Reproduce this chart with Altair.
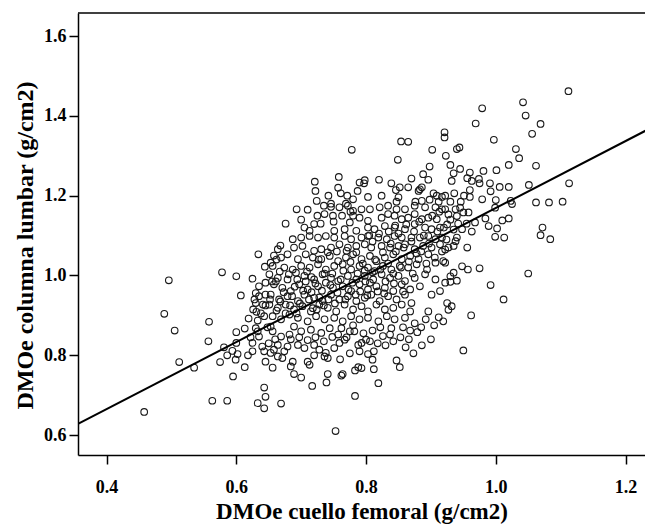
import altair as alt
import pandas as pd

# ---- data (x = DMOe cuello femoral, y = DMOe columna lumbar) ----
pts_upper_right = [
    (1.112, 1.462), (1.042, 1.434), (0.979, 1.419), (1.046, 1.401), (0.969, 1.381), (1.069, 1.380),
    (1.056, 1.355), (0.997, 1.340), (0.921, 1.359), (0.921, 1.346), (0.940, 1.317), (0.944, 1.321),
    (1.031, 1.317), (1.036, 1.294), (0.923, 1.300), (1.020, 1.277), (1.062, 1.275), (0.930, 1.277),
    (0.945, 1.267), (0.935, 1.256), (0.960, 1.258), (0.981, 1.262), (1.001, 1.264), (0.932, 1.237),
    (0.956, 1.244), (0.963, 1.237), (0.974, 1.242), (0.975, 1.231), (0.991, 1.231), (1.006, 1.222),
    (1.020, 1.222), (1.051, 1.227), (1.113, 1.231), (0.960, 1.214), (0.992, 1.211), (0.936, 1.206),
    (0.922, 1.200), (0.960, 1.197), (0.979, 1.191), (1.000, 1.189), (1.023, 1.187), (1.062, 1.183),
    (1.082, 1.183), (1.103, 1.185),
]
pts_upper_mid = [
    (0.778, 1.315), (0.854, 1.336), (0.865, 1.335), (0.849, 1.290), (0.902, 1.315), (0.898, 1.273),
    (0.888, 1.254), (0.896, 1.240), (0.870, 1.243), (0.758, 1.247), (0.721, 1.235), (0.722, 1.212),
    (0.724, 1.187), (0.790, 1.233), (0.798, 1.239), (0.797, 1.231), (0.820, 1.240), (0.839, 1.231),
    (0.852, 1.221), (0.846, 1.214), (0.865, 1.221), (0.883, 1.216), (0.886, 1.221), (0.881, 1.212),
    (0.787, 1.212), (0.780, 1.191), (0.761, 1.206), (0.803, 1.197), (0.824, 1.200), (0.850, 1.196),
    (0.847, 1.185), (0.904, 1.206), (0.909, 1.200), (0.917, 1.197), (0.886, 1.187), (0.876, 1.185),
    (0.746, 1.180), (0.769, 1.180),
]
pts_left_mid = [
    (0.634, 1.053), (0.644, 1.022), (0.578, 1.008), (0.600, 0.998), (0.625, 0.992), (0.496, 0.988),
    (0.635, 0.973), (0.645, 0.982), (0.607, 0.950), (0.630, 0.956), (0.635, 0.948), (0.645, 0.952),
    (0.630, 0.931), (0.641, 0.927), (0.489, 0.904), (0.631, 0.909), (0.643, 0.898), (0.619, 0.892),
    (0.633, 0.887), (0.558, 0.884),
]
pts_left_low = [
    (0.505, 0.862), (0.557, 0.835), (0.512, 0.783), (0.535, 0.769), (0.458, 0.658), (0.563, 0.686),
    (0.586, 0.686), (0.575, 0.783), (0.581, 0.820), (0.586, 0.800), (0.594, 0.811), (0.600, 0.858),
    (0.613, 0.867), (0.600, 0.831), (0.602, 0.803), (0.599, 0.789), (0.595, 0.747), (0.613, 0.770),
    (0.625, 0.831), (0.633, 0.860), (0.635, 0.847), (0.640, 0.822), (0.643, 0.810), (0.645, 0.784),
    (0.643, 0.719), (0.645, 0.696), (0.633, 0.680), (0.643, 0.667), (0.630, 0.868),
]
pts_mid_low = [
    (0.753, 0.610), (0.669, 0.679), (0.783, 0.698), (0.717, 0.723), (0.739, 0.732), (0.741, 0.753),
    (0.762, 0.749), (0.764, 0.753), (0.783, 0.762), (0.788, 0.770), (0.793, 0.768), (0.819, 0.730),
    (0.812, 0.765), (0.810, 0.789), (0.812, 0.810), (0.803, 0.803), (0.700, 0.744), (0.689, 0.753),
    (0.656, 0.769), (0.847, 0.787), (0.852, 0.770), (0.861, 0.820), (0.837, 0.852), (0.839, 0.868),
    (0.868, 0.862), (0.879, 0.858), (0.857, 0.870), (0.788, 0.826), (0.793, 0.831), (0.800, 0.839),
    (0.806, 0.835), (0.738, 0.806), (0.741, 0.793), (0.736, 0.797), (0.710, 0.784), (0.713, 0.776),
    (0.684, 0.772), (0.687, 0.784), (0.664, 0.797), (0.671, 0.793), (0.653, 0.806), (0.658, 0.814),
    (0.751, 0.818), (0.759, 0.831), (0.767, 0.839), (0.775, 0.860), (0.782, 0.860), (0.762, 0.868),
    (0.679, 0.822), (0.695, 0.826), (0.705, 0.818), (0.720, 0.826), (0.728, 0.814), (0.669, 0.847),
    (0.682, 0.852), (0.700, 0.860), (0.715, 0.864), (0.731, 0.856), (0.744, 0.868), (0.656, 0.860),
    (0.653, 0.872), (0.689, 0.872), (0.664, 0.826), (0.674, 0.810),
]
pts_right_mid = [
    (1.072, 1.120), (1.069, 1.101), (1.084, 1.091), (1.050, 1.005), (0.992, 0.976), (1.012, 0.940),
    (0.962, 0.900), (0.975, 1.018), (0.957, 1.015), (0.948, 1.023), (0.935, 1.007), (0.930, 0.998),
    (0.940, 0.987), (0.930, 0.984), (0.922, 0.982), (0.919, 1.036), (0.925, 0.931), (0.932, 0.923),
    (0.927, 0.914), (0.919, 0.885), (0.999, 1.097), (1.013, 1.095), (1.002, 1.118), (0.989, 1.124),
    (1.010, 1.138), (1.020, 1.143), (0.984, 1.143), (0.968, 1.133), (0.963, 1.110), (0.948, 1.116),
    (0.999, 1.170), (1.025, 1.179), (0.940, 1.095), (0.938, 1.086), (0.935, 1.074), (0.927, 1.070),
    (0.922, 1.065), (0.956, 1.070), (0.925, 1.128), (0.927, 1.153), (0.940, 1.149), (0.950, 1.158),
    (0.958, 1.158), (0.945, 1.170), (0.938, 1.166), (0.922, 1.166), (0.922, 1.032), (0.950, 0.812),
]
pts_core = [
    (0.693, 1.166), (0.746, 1.172), (0.759, 1.171), (0.772, 1.175), (0.780, 1.162), (0.793, 1.166),
    (0.806, 1.166), (0.821, 1.171), (0.834, 1.175), (0.847, 1.166), (0.860, 1.166), (0.875, 1.175),
    (0.891, 1.171), (0.907, 1.171), (0.917, 1.166),
    (0.775, 1.133), (0.780, 1.150), (0.790, 1.145), (0.803, 1.137), (0.824, 1.145), (0.834, 1.154),
    (0.844, 1.150), (0.855, 1.141), (0.865, 1.145), (0.875, 1.154), (0.886, 1.141), (0.896, 1.145),
    (0.909, 1.141), (0.749, 1.150), (0.736, 1.154),
    (0.676, 1.130), (0.720, 1.129), (0.803, 1.120), (0.813, 1.116), (0.829, 1.124), (0.844, 1.120),
    (0.860, 1.116), (0.875, 1.129), (0.891, 1.120), (0.901, 1.116), (0.914, 1.120), (0.713, 1.112),
    (0.751, 1.112), (0.767, 1.116), (0.785, 1.112),
    (0.687, 1.091), (0.700, 1.095), (0.713, 1.099), (0.726, 1.095), (0.738, 1.099), (0.751, 1.095),
    (0.767, 1.099), (0.777, 1.091), (0.793, 1.095), (0.803, 1.099), (0.819, 1.095), (0.832, 1.091),
    (0.844, 1.099), (0.855, 1.095), (0.870, 1.095), (0.883, 1.095), (0.896, 1.099), (0.907, 1.091),
    (0.917, 1.095),
    (0.664, 1.066), (0.689, 1.070), (0.702, 1.074), (0.720, 1.062), (0.731, 1.066), (0.746, 1.070),
    (0.759, 1.078), (0.772, 1.070), (0.785, 1.074), (0.798, 1.078), (0.808, 1.070), (0.824, 1.074),
    (0.837, 1.070), (0.850, 1.074), (0.860, 1.078), (0.875, 1.066), (0.888, 1.074), (0.901, 1.070),
    (0.914, 1.078),
    (0.653, 1.032), (0.669, 1.045), (0.679, 1.053), (0.695, 1.041), (0.707, 1.053), (0.718, 1.045),
    (0.731, 1.041), (0.744, 1.049), (0.757, 1.036), (0.769, 1.045), (0.780, 1.053), (0.793, 1.041),
    (0.806, 1.049), (0.816, 1.036), (0.829, 1.045), (0.842, 1.053), (0.855, 1.041), (0.868, 1.049),
    (0.881, 1.041), (0.896, 1.053), (0.907, 1.032),
    (0.656, 1.024), (0.674, 1.020), (0.687, 1.015), (0.700, 1.024), (0.713, 1.020), (0.726, 1.028),
    (0.738, 1.015), (0.751, 1.024), (0.764, 1.028), (0.777, 1.015), (0.790, 1.024), (0.803, 1.020),
    (0.813, 1.011), (0.826, 1.024), (0.839, 1.015), (0.852, 1.024), (0.865, 1.020), (0.878, 1.028),
    (0.894, 1.015),
    (0.651, 1.003), (0.664, 0.994), (0.679, 0.990), (0.692, 1.007), (0.705, 0.999), (0.720, 0.990),
    (0.733, 1.003), (0.746, 0.994), (0.757, 0.986), (0.772, 0.999), (0.785, 0.990), (0.798, 0.999),
    (0.811, 0.990), (0.824, 1.003), (0.837, 0.994), (0.850, 0.999), (0.860, 0.986), (0.875, 0.994),
    (0.891, 1.003), (0.907, 0.990),
    (0.658, 0.978), (0.671, 0.969), (0.684, 0.961), (0.697, 0.978), (0.710, 0.965), (0.726, 0.973),
    (0.738, 0.982), (0.749, 0.969), (0.764, 0.973), (0.777, 0.961), (0.790, 0.978), (0.803, 0.965),
    (0.816, 0.973), (0.829, 0.969), (0.842, 0.961), (0.855, 0.978), (0.868, 0.965), (0.883, 0.973),
    (0.901, 0.952), (0.914, 0.961),
    (0.653, 0.952), (0.666, 0.940), (0.679, 0.948), (0.695, 0.936), (0.705, 0.952), (0.720, 0.944),
    (0.733, 0.936), (0.746, 0.952), (0.759, 0.940), (0.772, 0.948), (0.785, 0.936), (0.798, 0.944),
    (0.808, 0.952), (0.821, 0.936), (0.834, 0.948), (0.847, 0.940), (0.860, 0.952), (0.870, 0.931),
    (0.651, 0.927), (0.664, 0.919), (0.676, 0.927), (0.689, 0.915), (0.702, 0.923), (0.715, 0.910),
    (0.728, 0.927), (0.741, 0.919), (0.754, 0.910), (0.767, 0.927), (0.780, 0.915), (0.793, 0.923),
    (0.803, 0.910), (0.816, 0.927), (0.829, 0.915), (0.842, 0.919), (0.855, 0.927), (0.868, 0.910),
    (0.896, 0.910),
    (0.656, 0.898), (0.669, 0.890), (0.682, 0.902), (0.695, 0.894), (0.710, 0.885), (0.723, 0.898),
    (0.736, 0.890), (0.751, 0.894), (0.764, 0.885), (0.777, 0.898), (0.790, 0.890), (0.803, 0.894),
    (0.819, 0.885), (0.832, 0.898), (0.844, 0.890), (0.860, 0.894),
]
pts_core_extra = [
    (0.662, 0.912), (0.668, 0.935), (0.673, 0.958), (0.676, 0.905), (0.683, 0.925), (0.686, 0.948),
    (0.690, 0.972), (0.693, 0.905), (0.698, 0.930), (0.703, 0.962), (0.707, 0.985), (0.712, 0.940),
    (0.716, 0.958), (0.718, 0.918), (0.661, 0.985), (0.667, 1.010), (0.681, 1.003), (0.694, 0.990),
    (0.709, 1.010), (0.716, 0.996),
    (0.724, 0.915), (0.728, 0.945), (0.732, 0.962), (0.735, 0.925), (0.742, 0.940), (0.745, 0.976),
    (0.748, 1.005), (0.752, 0.930), (0.756, 0.957), (0.761, 0.990), (0.765, 1.012), (0.768, 0.940),
    (0.773, 0.965), (0.776, 1.034), (0.779, 0.982), (0.784, 0.952), (0.787, 1.005), (0.791, 0.960),
    (0.795, 1.030), (0.799, 0.985), (0.727, 1.040), (0.741, 1.058), (0.755, 1.060), (0.770, 1.062),
    (0.785, 1.058), (0.798, 1.012), (0.736, 1.005), (0.722, 0.980),
    (0.802, 0.950), (0.806, 0.982), (0.810, 1.008), (0.814, 1.040), (0.818, 0.960), (0.822, 1.015),
    (0.826, 1.058), (0.830, 0.985), (0.834, 1.030), (0.838, 1.080), (0.842, 1.005), (0.846, 1.060),
    (0.850, 1.105), (0.854, 1.020), (0.858, 1.070), (0.862, 1.128), (0.866, 1.035), (0.870, 1.085),
    (0.874, 1.110), (0.878, 1.055), (0.882, 1.135), (0.810, 1.085), (0.820, 1.105), (0.835, 1.110),
    (0.845, 1.125), (0.805, 1.100), (0.828, 0.955), (0.843, 0.980), (0.857, 0.960), (0.872, 1.005),
    (0.885, 1.060), (0.889, 1.100), (0.893, 1.030), (0.897, 1.080), (0.902, 1.150), (0.906, 1.045),
    (0.910, 1.110), (0.913, 1.160), (0.917, 1.060), (0.920, 1.120), (0.924, 1.090), (0.930, 1.140),
    (0.935, 1.115), (0.942, 1.130), (0.946, 1.185), (0.951, 1.200), (0.955, 1.130), (0.930, 1.185),
    (0.912, 1.185), (0.898, 1.190),
    (0.684, 0.840), (0.697, 0.845), (0.710, 0.838), (0.722, 0.845), (0.735, 0.835), (0.748, 0.846),
    (0.757, 0.852), (0.770, 0.845), (0.780, 0.875), (0.796, 0.855), (0.810, 0.862), (0.822, 0.870),
    (0.826, 0.848), (0.818, 0.830), (0.830, 0.825), (0.842, 0.835), (0.853, 0.845), (0.866, 0.840),
    (0.875, 0.880), (0.885, 0.870), (0.892, 0.890), (0.905, 0.875), (0.912, 0.895), (0.900, 0.840),
    (0.886, 0.825), (0.873, 0.805), (0.760, 0.790), (0.775, 0.805), (0.790, 0.810), (0.720, 0.800),
    (0.622, 0.845), (0.626, 0.915), (0.628, 0.940), (0.638, 0.905), (0.645, 0.925), (0.648, 0.870),
    (0.652, 0.940), (0.655, 0.985), (0.658, 1.050), (0.662, 1.040), (0.668, 1.075), (0.660, 0.840),
    (0.625, 0.810), (0.618, 0.800), (0.650, 0.830),
    (0.700, 1.140), (0.705, 1.120), (0.710, 1.165), (0.725, 1.150), (0.730, 1.130), (0.742, 1.200),
    (0.750, 1.135), (0.757, 1.220), (0.763, 1.150), (0.771, 1.200), (0.776, 1.160), (0.735, 1.175),
]

x_ticks = [0.4, 0.6, 0.8, 1.0, 1.2]
y_ticks = [0.6, 0.8, 1.0, 1.2, 1.4, 1.6]
x_domain = [0.356, 1.230]
y_domain = [0.550, 1.658]
fit_intercept = 0.329
fit_slope = 0.84
line_x = [0.356, 1.26]

all_pts = (pts_upper_right + pts_upper_mid + pts_left_mid + pts_left_low + pts_mid_low
           + pts_right_mid + pts_core + pts_core_extra)
df = pd.DataFrame(all_pts, columns=["x", "y"])
line_df = pd.DataFrame({"x": line_x, "y": [fit_intercept + fit_slope * v for v in line_x]})

LEFT, TOP, BOTTOM = 78, 13, 71
W = 645 - LEFT
H = 526 - TOP - BOTTOM

xs = alt.Scale(domain=x_domain, nice=False, zero=False)
ys = alt.Scale(domain=y_domain, nice=False, zero=False)

points = alt.Chart(df).mark_point(
    shape="circle", filled=False, size=44, color="#1a1a1a", strokeWidth=1.1, opacity=1
).encode(
    x=alt.X("x:Q", scale=xs, axis=alt.Axis(values=x_ticks, format=".1f", title="DMOe cuello femoral (g/cm2)")),
    y=alt.Y("y:Q", scale=ys, axis=alt.Axis(values=y_ticks, format=".1f", title="DMOe columna lumbar (g/cm2)",
                                           titleFontSize=24, titleY=H / 2 + 11)),
)

fit = alt.Chart(line_df).mark_line(color="black", strokeWidth=2, clip=True).encode(
    x=alt.X("x:Q", scale=xs), y=alt.Y("y:Q", scale=ys)
)

frame_top = alt.Chart(pd.DataFrame({"k": [0]})).mark_rule(color="black", strokeWidth=1.5).encode(
    x=alt.value(0), x2=alt.value(W), y=alt.value(0)
)

chart = alt.layer(points, fit, frame_top).properties(
    width=W, height=H,
    padding={"left": LEFT, "top": TOP, "right": 0, "bottom": BOTTOM},
    autosize=alt.AutoSizeParams(type="none"),
    background="white",
).configure_view(strokeOpacity=0).configure_axis(
    grid=False,
    domainColor="black", domainWidth=1.5,
    tickColor="black", tickSize=9, tickWidth=1.5,
    labelFont="Liberation Serif", labelFontSize=18, labelFontWeight="bold", labelColor="black",
    titleFont="Liberation Serif", titleFontSize=23, titleFontWeight="bold", titleColor="black",
).configure_axisX(labelPadding=14, titlePadding=4).configure_axisY(labelPadding=3, titlePadding=6)

chart.save("out.html", embed_options={"renderer": "svg", "actions": False})
